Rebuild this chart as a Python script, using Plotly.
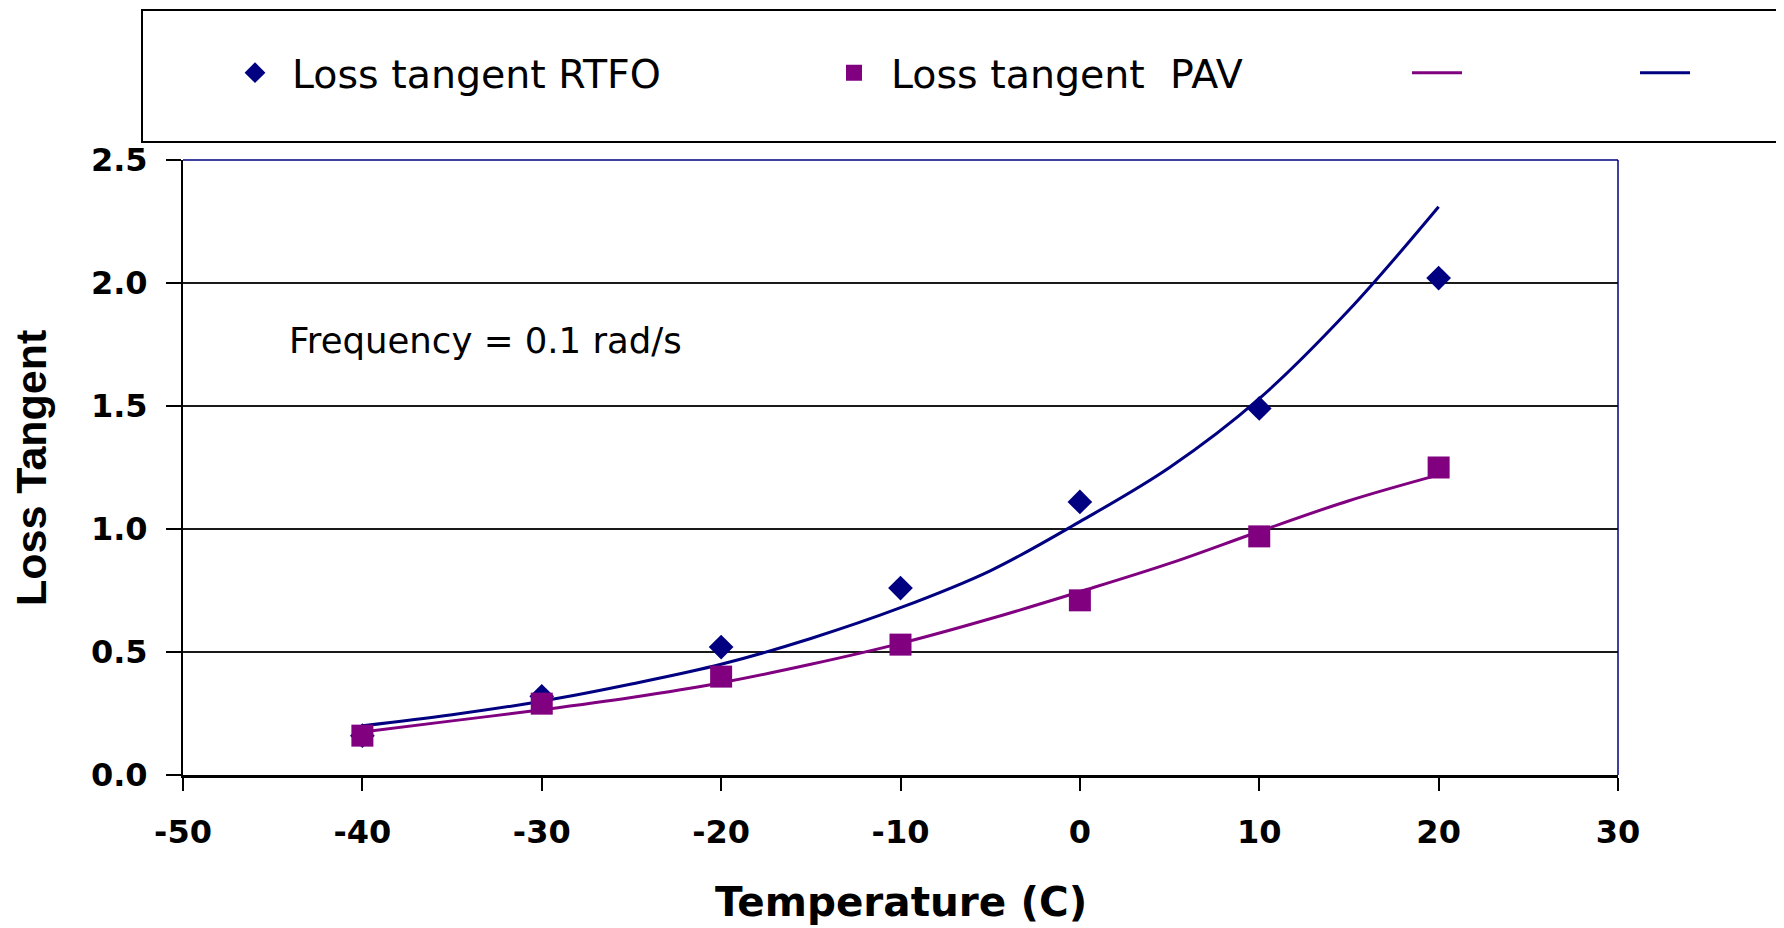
import plotly.graph_objects as go

# ---------------- data ----------------
temperature = [-40, -30, -20, -10, 0, 10, 20]
loss_tangent_rtfo = [0.16, 0.32, 0.52, 0.76, 1.11, 1.49, 2.02]
loss_tangent_pav = [0.16, 0.29, 0.40, 0.53, 0.71, 0.97, 1.25]

trend_temperature = [-40, -35, -30, -25, -20, -15, -10, -5, 0, 5, 10, 15, 20]
trend_rtfo = [0.20, 0.245, 0.30, 0.37, 0.45, 0.555, 0.68, 0.83, 1.03, 1.25, 1.53, 1.89, 2.31]
trend_pav = [0.175, 0.22, 0.265, 0.315, 0.375, 0.45, 0.535, 0.635, 0.745, 0.86, 0.99, 1.115, 1.22]

x_ticks = [-50, -40, -30, -20, -10, 0, 10, 20, 30]
y_ticks = [0.0, 0.5, 1.0, 1.5, 2.0, 2.5]
y_tick_labels = ["0.0", "0.5", "1.0", "1.5", "2.0", "2.5"]

name_rtfo = "Loss tangent RTFO"
name_pav = "Loss tangent\u00a0 PAV"
x_title = "Temperature (C)"
y_title = "Loss Tangent"
note_text = "Frequency = 0.1 rad/s"

# ---------------- style ----------------
NAVY = "#000080"
PURPLE = "#800080"
OFF = 8                      # page body margin
W, H = 1784 - OFF, 928 - OFF
ML, MR, MT, MB = 183 - OFF, 166, 160 - OFF, 153
PW, PH = W - ML - MR, H - MT - MB


def px_x(p):
    return (p - OFF - ML) / PW


def px_y(p):
    return (H - MB - (p - OFF)) / PH


fig = go.Figure()

fig.add_trace(go.Scatter(
    x=trend_temperature, y=trend_pav, mode="lines", name="",
    line=dict(color=PURPLE, width=3, shape="spline"), legend="legend3"))
fig.add_trace(go.Scatter(
    x=trend_temperature, y=trend_rtfo, mode="lines", name="",
    line=dict(color=NAVY, width=3, shape="spline"), legend="legend4"))
fig.add_trace(go.Scatter(
    x=temperature, y=loss_tangent_rtfo, mode="markers", name=name_rtfo,
    marker=dict(symbol="diamond", size=19, color=NAVY), legend="legend"))
fig.add_trace(go.Scatter(
    x=temperature, y=loss_tangent_pav, mode="markers", name=name_pav,
    marker=dict(symbol="square", size=22, color=PURPLE), legend="legend2"))

legend_font = dict(family="DejaVu Sans", size=39.5, color="black")
legend_common = dict(orientation="h", xanchor="left", yanchor="middle",
                     bgcolor="rgba(0,0,0,0)", borderwidth=0, font=legend_font)
ly = px_y(73)

fig.update_layout(
    width=W, height=H,
    showlegend=True,
    paper_bgcolor="white", plot_bgcolor="white",
    margin=dict(l=ML, r=MR, t=MT, b=MB, autoexpand=False),
    legend=dict(x=px_x(255 - 37), y=ly, itemwidth=64, **legend_common),
    legend2=dict(x=px_x(854 - 37), y=ly, itemwidth=64, **legend_common),
    legend3=dict(x=px_x(1437 - 30), y=ly, itemwidth=50, **legend_common),
    legend4=dict(x=px_x(1665 - 30), y=ly, itemwidth=50, **legend_common),
    xaxis=dict(
        range=[-50, 30], tickmode="array", tickvals=x_ticks,
        ticktext=[str(v) for v in x_ticks],
        showgrid=False, zeroline=False,
        showline=True, linecolor="black", linewidth=2.5,
        ticks="outside", ticklen=13, tickwidth=1.5, tickcolor="black",
        ticklabelstandoff=14,
        tickfont=dict(family="DejaVu Sans", size=32, color="black", weight="bold"),
    ),
    yaxis=dict(
        range=[0, 2.5], tickmode="array", tickvals=y_ticks, ticktext=y_tick_labels,
        showgrid=True, gridcolor="#1a1a1a", gridwidth=1.5, zeroline=False,
        showline=True, linecolor="black", linewidth=2,
        ticks="outside", ticklen=15, tickwidth=1.5, tickcolor="black",
        ticklabelstandoff=12,
        tickfont=dict(family="DejaVu Sans", size=32, color="black", weight="bold"),
    ),
    shapes=[
        dict(type="rect", xref="paper", yref="paper",
             x0=px_x(142), x1=px_x(1777), y0=px_y(142), y1=px_y(10),
             line=dict(color="black", width=2), fillcolor="rgba(0,0,0,0)"),
        dict(type="line", xref="paper", yref="paper", x0=0, x1=1, y0=1, y1=1,
             line=dict(color=NAVY, width=1.5)),
        dict(type="line", xref="paper", yref="paper", x0=1, x1=1, y0=0, y1=1,
             line=dict(color=NAVY, width=1.5)),
    ],
    annotations=[
        dict(text=note_text, xref="paper", yref="paper", x=px_x(287), y=px_y(340),
             xanchor="left", yanchor="middle", showarrow=False,
             font=dict(family="DejaVu Sans", size=35.5, color="black")),
        dict(text=x_title, xref="paper", yref="paper", x=px_x(901), y=px_y(902),
             xanchor="center", yanchor="middle", showarrow=False,
             font=dict(family="DejaVu Sans", size=40.5, color="black", weight="bold")),
        dict(text=y_title, xref="paper", yref="paper", x=px_x(31), y=px_y(468),
             xanchor="center", yanchor="middle", showarrow=False, textangle=-90,
             font=dict(family="Liberation Sans", size=43, color="black", weight="bold")),
    ],
)

fig.write_html("out.html")
